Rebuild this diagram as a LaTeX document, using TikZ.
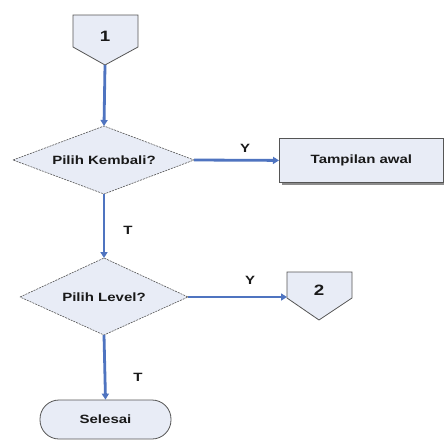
\documentclass[tikz,border=0pt]{standalone}
\usepackage{fontspec}
\setmainfont{Liberation Sans}[FakeStretch=1.25]
\usetikzlibrary{arrows.meta}
\definecolor{boxfill}{HTML}{E8ECF6}
\definecolor{flowblue}{HTML}{4F74C0}
\definecolor{edge}{HTML}{555555}
\tikzset{
  x=1pt,y=-1pt,
  every node/.style={font=\bfseries\fontsize{12}{14}\selectfont, text=black!90},
  decisionpath/.style={draw=edge, dash pattern=on 2pt off 1pt, fill=boxfill, line width=0.6pt},
  connpath/.style={draw=edge, fill=boxfill, line width=0.8pt},
  procbox/.style={rectangle, draw=edge, fill=boxfill, line width=0.8pt},
  flow/.style={draw=flowblue, line width=2.8pt, -{Triangle[length=6pt,width=7pt]}},
  lbl/.style={font=\bfseries\fontsize{12}{14}\selectfont},
}
\begin{document}
\begin{tikzpicture}
\useasboundingbox (0,0) rectangle (444,440);
\fill[white] (0,0) rectangle (444,440);
% off-page connector 1
\draw[connpath] (73,15) -- (138,15) -- (138,47) -- (105,65) -- (73,47) -- cycle;
\node (c1) at (105,36) {\fontsize{15}{17}\selectfont 1};
\coordinate (c1tip) at (105,65);
% decision 1
\draw[decisionpath] (13,160) -- (104,126) -- (194,160) -- (104,194) -- cycle;
\node (d1) at (104,160) {Pilih Kembali?};
\coordinate (d1n) at (104,126);
\coordinate (d1e) at (194,160);
\coordinate (d1s) at (104,194);
% process box
\fill[black!45] (282,141) rectangle (445,185);
\node[procbox, minimum width=164pt, minimum height=44pt, anchor=north west] (p1) at (279,138) {Tampilan awal};
% decision 2
\draw[decisionpath] (20,297) -- (104,258) -- (188,297) -- (104,335) -- cycle;
\node (d2) at (104,297) {Pilih Level?};
\coordinate (d2n) at (104,258);
\coordinate (d2e) at (188,297);
\coordinate (d2s) at (104,335);
% off-page connector 2
\draw[connpath] (287,272) -- (352,272) -- (352,298) -- (319,320) -- (287,298) -- cycle;
\node (c2) at (319,290) {\fontsize{15}{17}\selectfont 2};
\coordinate (c2left) at (287,297);
% terminal
\node[draw=edge, fill=boxfill, line width=0.8pt, rounded corners=19pt, minimum width=131pt, minimum height=39pt] (end) at (105.5,419.5) {Selesai};
% connectors
\draw[flow] (c1tip) -- (d1n);
\draw[flow] (d1e) -- (p1.west);
\draw[flow] (d1s) -- (d2n);
\draw[flow] (d2e) -- (c2left);
\draw[flow] (d2s) -- (end.north);
% labels
\node[lbl] (y1) at (245,148) {Y};
\node[lbl] (t1) at (128,230) {T};
\node[lbl] (y2) at (250,280) {Y};
\node[lbl] (t2) at (138,377) {T};
\end{tikzpicture}
\end{document}
